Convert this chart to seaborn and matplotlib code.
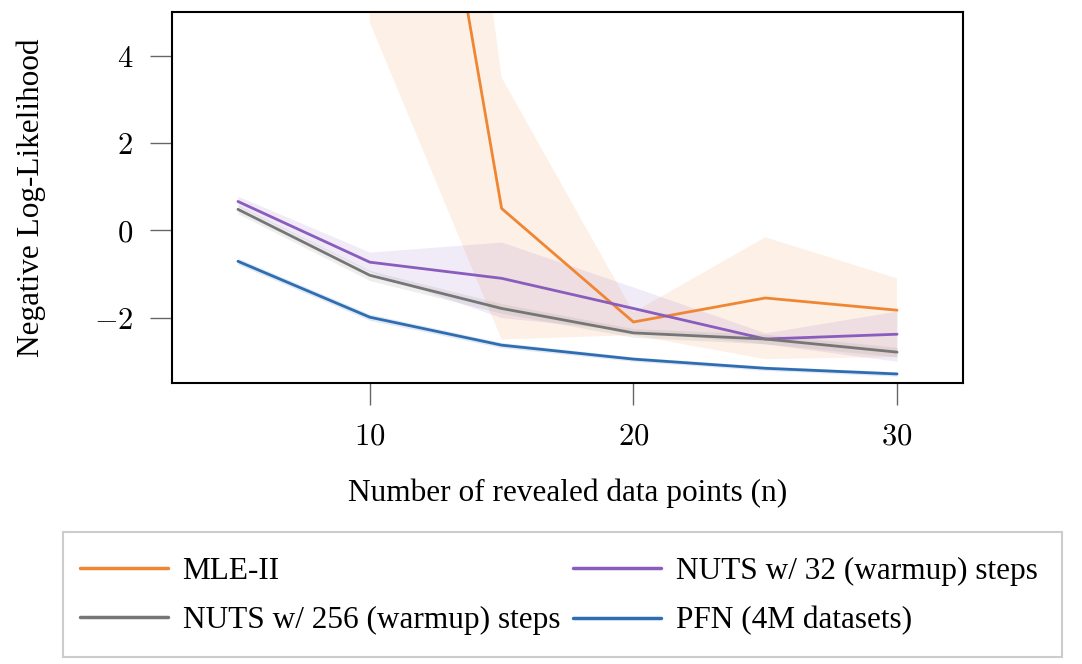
import numpy as np
import pandas as pd
import matplotlib
matplotlib.use("Agg")
import matplotlib.pyplot as plt
import seaborn as sns
from matplotlib.lines import Line2D
from matplotlib.patches import Rectangle

# ---- data ----
n_points = [5, 10, 15, 20, 25, 30]

mle_x = [10, 15, 20, 25, 30]
mle_mean = [18.0, 0.5, -2.1, -1.55, -1.83]
mle_lo = [4.76, -2.5, -2.4, -2.95, -2.9]
mle_hi = [26.0, 3.5, -1.88, -0.16, -1.1]

nuts32_mean = [0.66, -0.73, -1.1, -1.79, -2.49, -2.38]
nuts32_lo = [0.55, -0.95, -2.0, -2.3, -2.6, -3.0]
nuts32_hi = [0.78, -0.5, -0.27, -1.3, -2.35, -1.85]

nuts256_mean = [0.48, -1.03, -1.79, -2.35, -2.49, -2.79]
nuts256_lo = [0.38, -1.15, -1.9, -2.45, -2.6, -2.9]
nuts256_hi = [0.58, -0.92, -1.68, -2.25, -2.38, -2.68]

pfn_mean = [-0.71, -1.99, -2.63, -2.95, -3.16, -3.29]
pfn_lo = [-0.78, -2.06, -2.69, -3.0, -3.21, -3.34]
pfn_hi = [-0.64, -1.92, -2.57, -2.9, -3.11, -3.24]

x_ticks = [10, 20, 30]
y_ticks = [-2, 0, 2, 4]

colors = {"MLE-II": "#EF8634", "NUTS w/ 32 (warmup) steps": "#8A5CBD",
          "NUTS w/ 256 (warmup) steps": "#767676", "PFN (4M datasets)": "#2F6DB3"}

sns.set_theme(style="white")
plt.rcParams["font.family"] = ["Liberation Serif", "DejaVu Serif"]
plt.rcParams["mathtext.fontset"] = "cm"
plt.rcParams["text.color"] = "black"
plt.rcParams["axes.labelcolor"] = "black"
plt.rcParams["xtick.color"] = "#666666"
plt.rcParams["ytick.color"] = "#666666"
plt.rcParams["xtick.labelcolor"] = "black"
plt.rcParams["ytick.labelcolor"] = "black"

fig = plt.figure(figsize=(10.82, 6.64), dpi=100)
ax = fig.add_axes([0.159, 0.423, 0.731, 0.559])

series = [
    ("MLE-II", mle_x, mle_mean, mle_lo, mle_hi, 0.12),
    ("NUTS w/ 32 (warmup) steps", n_points, nuts32_mean, nuts32_lo, nuts32_hi, 0.12),
    ("NUTS w/ 256 (warmup) steps", n_points, nuts256_mean, nuts256_lo, nuts256_hi, 0.12),
    ("PFN (4M datasets)", n_points, pfn_mean, pfn_lo, pfn_hi, 0.15),
]
for name, xs, m, lo, hi, a in series:
    ax.fill_between(xs, lo, hi, color=colors[name], alpha=a, linewidth=0)
for name, xs, m, lo, hi, a in series:
    df = pd.DataFrame({"n": xs, "nll": m})
    sns.lineplot(data=df, x="n", y="nll", color=colors[name], linewidth=2.0, ax=ax)

ax.set_xlim(2.5, 32.5)
ax.set_ylim(-3.5, 5.0)
ax.set_xticks(x_ticks)
ax.set_yticks(y_ticks)
ax.set_xticklabels([rf"${t}$" for t in x_ticks])
ax.set_yticklabels([rf"${t}$" for t in y_ticks])
ax.tick_params(axis="both", which="major", labelsize=22, length=16, width=1,
               direction="out", bottom=True, left=True, pad=12)
for sp in ax.spines.values():
    sp.set_color("black")
    sp.set_linewidth(1.5)
ax.set_xlabel("Number of revealed data points (n)", fontsize=22.5, labelpad=20)
ax.set_ylabel("Negative Log-Likelihood", fontsize=22.5, labelpad=34)

# legend box
W, H = 1082, 664
fig.patches.append(Rectangle((63 / W, 1 - 657 / H), (1062 - 63) / W, (657 - 532) / H,
                             transform=fig.transFigure, facecolor="white",
                             edgecolor="#cccccc", linewidth=1.5, zorder=0))

hl = ["MLE-II", "NUTS w/ 256 (warmup) steps", "NUTS w/ 32 (warmup) steps", "PFN (4M datasets)"]
handles = [Line2D([0], [0], color=colors[l], linewidth=2.5) for l in hl]
leg = fig.legend(handles, hl, loc="center", ncol=2,
                 bbox_to_anchor=(0.5165, 1 - 596 / H), fontsize=22.5,
                 frameon=False, handlelength=2.8, handletextpad=0.48,
                 borderaxespad=0, labelspacing=0.66, borderpad=0.2,
                 columnspacing=0.42)

fig.savefig("out.png", dpi=100)
